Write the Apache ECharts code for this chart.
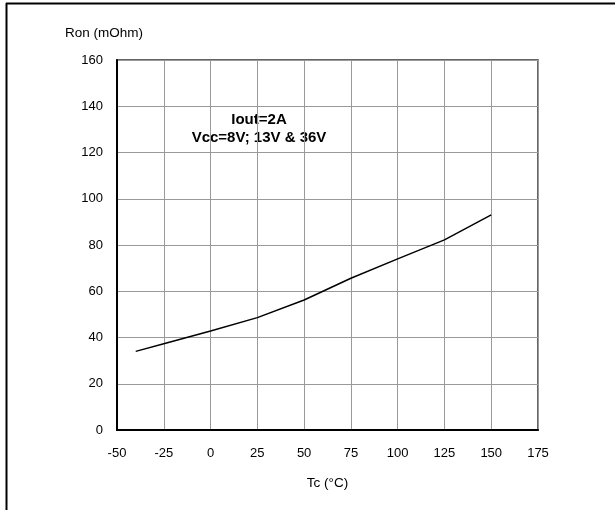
<!DOCTYPE html>
<html><head><meta charset="utf-8">
<script src="https://cdn.jsdelivr.net/npm/echarts@6/dist/echarts.min.js"></script>
<style>html,body{margin:0;padding:0;background:#fff}#c{width:615px;height:510px}</style>
</head><body><div id="c"></div>
<script>
const tempC = [-40, -25, 0, 25, 50, 75, 100, 125, 150];
const ronMOhm = [34, 37.3, 42.8, 48.6, 56.2, 65.6, 74, 82.2, 93];
const xTicks = [-50, 175, 25];
const yTicks = [0, 160, 20];
const noteLines = ['Iout=2A', 'Vcc=8V; 13V & 36V'];
const yName = 'Ron (mOhm)';
const xName = 'Tc (°C)';

const chart = echarts.init(document.getElementById('c'), null, {renderer: 'canvas'});
const font = 'Liberation Sans, Arial, sans-serif';
chart.setOption({
  animation: false,
  grid: {left: 117, right: 77, top: 60, bottom: 80, show: true, borderColor: '#333', borderWidth: 1.5},
  xAxis: {
    type: 'value', min: xTicks[0], max: xTicks[1], interval: xTicks[2],
    name: xName, nameLocation: 'middle', nameGap: 46,
    nameTextStyle: {color: '#000', fontSize: 13.5, fontFamily: font},
    axisLine: {onZero: false, lineStyle: {color: '#000', width: 2}},
    axisTick: {show: false},
    axisLabel: {color: '#000', fontSize: 13, fontFamily: font, margin: 17},
    splitLine: {lineStyle: {color: '#999', width: 1}}
  },
  yAxis: {
    type: 'value', min: yTicks[0], max: yTicks[1], interval: yTicks[2],
    axisLine: {onZero: false, lineStyle: {color: '#000', width: 2}},
    axisTick: {show: false},
    axisLabel: {color: '#000', fontSize: 13, fontFamily: font, margin: 14},
    splitLine: {lineStyle: {color: '#999', width: 1}}
  },
  series: [{
    type: 'line', data: tempC.map((t, i) => [t, ronMOhm[i]]),
    showSymbol: false, lineStyle: {color: '#000', width: 1.5}
  }],
  graphic: [
    {type: 'line', shape: {x1: 6, y1: 3.5, x2: 615, y2: 3.5}, style: {stroke: '#000', lineWidth: 2}},
    {type: 'line', shape: {x1: 6.5, y1: 3, x2: 6.5, y2: 510}, style: {stroke: '#000', lineWidth: 2}},
    {type: 'text', x: 65, y: 33, style: {text: yName, font: '13.5px ' + font, fill: '#000', align: 'left', verticalAlign: 'middle'}},
    {type: 'text', x: 259, y: 120, style: {text: noteLines[0], font: 'bold 15px ' + font, fill: '#000', align: 'center', verticalAlign: 'middle'}},
    {type: 'text', x: 259, y: 138, style: {text: noteLines[1], font: 'bold 15px ' + font, fill: '#000', align: 'center', verticalAlign: 'middle'}}
  ]
});
</script></body></html>
